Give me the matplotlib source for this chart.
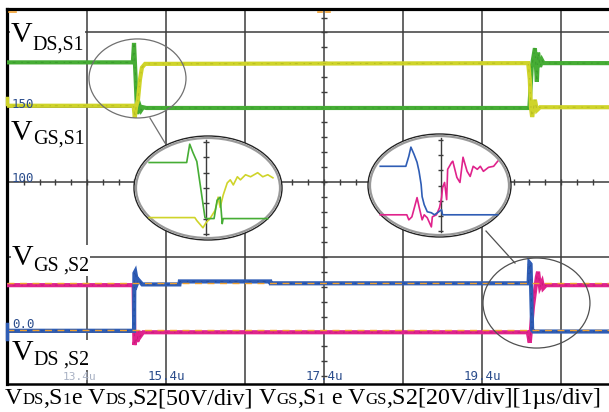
import numpy as np
import matplotlib.pyplot as plt
from matplotlib.patches import Ellipse, Rectangle

W, H, DPI = 609, 412, 100

# scope screen: time in us, vertical position in divisions (0 = centre line)
t_vds1 = [13.39, 14.98, 14.995, 15.005, 15.035, 15.06, 15.085, 15.11, 15.15,
          20.00, 20.03, 20.07, 20.095, 20.11, 20.135, 20.16, 20.18, 21.01]
v_vds1 = [1.60, 1.60, 1.86, 1.63, 0.91, 1.04, 0.96, 1.00, 0.99,
          0.99, 1.54, 1.79, 1.34, 1.73, 1.54, 1.63, 1.59, 1.59]

t_vgs1 = [13.39, 14.99, 15.005, 15.02, 15.045, 15.07, 15.095, 15.135,
          19.985, 20.005, 20.02, 20.035, 20.07, 20.095, 20.135, 21.01]
v_vgs1 = [1.02, 1.02, 0.86, 1.00, 1.10, 1.37, 1.53, 1.58,
          1.59, 1.37, 1.00, 0.87, 1.10, 0.96, 1.00, 1.00]

t_vds2 = [13.39, 14.995, 15.00, 15.01, 15.035, 15.05, 15.10, 15.57, 15.575,
          16.72, 16.725, 19.99, 20.00, 20.015, 20.035, 20.05, 21.01]
v_vds2 = [-1.99, -1.99, -1.22, -1.20, -1.35, -1.31, -1.37, -1.37, -1.33,
          -1.33, -1.355, -1.355, -1.08, -1.10, -1.98, -2.00, -2.00]

t_vgs2 = [13.39, 14.99, 15.00, 15.02, 15.035, 15.05, 15.07, 15.11, 19.98,
          20.005, 20.045, 20.095, 20.11, 20.135, 20.16, 20.175, 20.21, 21.01]
v_vgs2 = [-1.38, -1.38, -2.18, -2.07, -2.14, -1.99, -2.07, -2.01, -2.01,
          -2.15, -1.67, -1.27, -1.20, -1.40, -1.34, -1.42, -1.38, -1.38]

ref_levels = [-1.35, -1.98]
time_labels = [15.4, 17.4, 19.4]
grid_t = [14.4, 15.4, 16.4, 17.4, 18.4, 19.4, 20.4]
grid_v = [-2, -1, 0, 1, 2]

# zoomed views (normalised ellipse coordinates)
z1_green_u = [-0.795, -0.288, -0.247, -0.205, -0.151, -0.041, -0.014, 0.082,
              0.123, 0.164, 0.192, 0.205, 0.808]
z1_green_w = [0.490, 0.490, 0.843, 0.686, 0.510, -0.569, -0.588, -0.588,
              -0.235, -0.176, -0.686, -0.588, -0.588]
z1_yel_u = [-0.795, -0.178, -0.151, -0.068, -0.027, 0.027, 0.096, 0.123, 0.137,
            0.164, 0.205, 0.260, 0.301, 0.342, 0.397, 0.438, 0.507, 0.575,
            0.671, 0.740, 0.808, 0.877]
z1_yel_w = [-0.569, -0.569, -0.627, -0.765, -0.667, -0.588, -0.431, -0.275,
            -0.176, -0.373, -0.137, 0.098, 0.157, 0.059, 0.216, 0.157, 0.255,
            0.216, 0.294, 0.216, 0.255, 0.196]
z2_blue_u = [-0.829, -0.471, -0.429, -0.400, -0.357, -0.314, -0.286, -0.257,
             -0.243, -0.214, -0.171, -0.114, -0.071, -0.029, 0.029, 0.043, 0.814]
z2_blue_w = [0.373, 0.373, 0.569, 0.745, 0.608, 0.451, 0.275, 0.020, -0.216,
             -0.373, -0.510, -0.529, -0.569, -0.529, -0.471, -0.569, -0.569]
z2_mag_u = [-0.829, -0.457, -0.429, -0.386, -0.329, -0.314, -0.286, -0.243,
            -0.214, -0.171, -0.114, -0.100, -0.043, 0.0, 0.029, 0.043, 0.071,
            0.100, 0.114, 0.171, 0.186, 0.243, 0.286, 0.329, 0.386, 0.429,
            0.471, 0.529, 0.571, 0.614, 0.686, 0.757, 0.814]
z2_mag_w = [-0.569, -0.569, -0.667, -0.608, -0.314, -0.235, -0.412, -0.667,
            -0.569, -0.627, -0.804, -0.608, -0.569, -0.431, -0.235, -0.039,
            0.059, -0.275, 0.314, 0.451, 0.471, 0.157, 0.059, 0.549, 0.275,
            0.176, 0.373, 0.314, 0.373, 0.275, 0.353, 0.373, 0.471]

GREEN = "#46ad35"
YELLOW = "#cfd42a"
BLUE = "#2f5db5"
MAGENTA = "#e0238c"
ORANGE = "#f0a030"
GRID = "#3c3c3c"
TXT = "#2b4d8c"

fig = plt.figure(figsize=(W / DPI, H / DPI), dpi=DPI)
ax = fig.add_axes([7 / W, 28 / H, 1 - 7 / W, 375 / H])
ax.set_xlim(13.387, 21.008)
ax.set_ylim(-2.702, 2.314)
ax.set_xticks([])
ax.set_yticks([])
for s in ["left", "top"]:
    ax.spines[s].set_linewidth(2.3)
ax.spines["bottom"].set_linewidth(1.8)
ax.spines["right"].set_visible(False)

for t in grid_t:
    ax.axvline(t, color=GRID, lw=1.1, zorder=1)
for v in grid_v:
    ax.axhline(v, color=GRID, lw=1.1, zorder=1)
ax.vlines(np.arange(13.6, 21.0, 0.2), -0.045, 0.045, color=GRID, lw=1.0, zorder=1)
ax.hlines(np.arange(-2.6, 2.3, 0.2), 17.4 - 0.04, 17.4 + 0.04, color=GRID, lw=1.0, zorder=1)

traces = [(t_vds1, v_vds1, GREEN, "#2f8a26"), (t_vgs1, v_vgs1, YELLOW, "#a3a81c"),
          (t_vgs2, v_vgs2, MAGENTA, "#b0156a"), (t_vds2, v_vds2, BLUE, "#1d3f88")]
for t, v, c, dark in traces:
    ax.plot(t, v, color=c, lw=3, zorder=3, solid_joinstyle="miter")
    # speckle of the sampled trace
    ax.plot(t, v, color=dark, lw=0.7, ls=(0, (1.5, 4, 3, 6)), alpha=0.55, zorder=3)
for lv in ref_levels:
    ax.axhline(lv, color=ORANGE, lw=1.0, ls=(0, (5, 4)), zorder=4)

# small markers on the screen edges
ax.plot([13.41, 13.50], [2.27, 2.27], color=ORANGE, lw=1.2, zorder=5, clip_on=False)
ax.plot([17.33, 17.37], [2.27, 2.27], color=ORANGE, lw=1.2, zorder=5)
ax.plot([17.43, 17.47], [2.27, 2.27], color=ORANGE, lw=1.2, zorder=5)
ax.plot([13.39, 13.39], [1.04, 1.12], color=YELLOW, lw=2.5, zorder=5, clip_on=False)
ax.plot([13.39, 13.39], [-1.90, -2.10], color=BLUE, lw=2.5, zorder=5, clip_on=False)

# highlight ellipses and connectors
ax.add_patch(Ellipse((15.039, 1.385), 1.228, 1.057, fc="none", ec="#707070", lw=0.9, zorder=4))
ax.add_patch(Ellipse((20.09, -1.619), 1.354, 1.204, fc="none", ec="#505050", lw=0.9, zorder=4))
ax.plot([15.197, 15.387], [0.856, 0.522], color="#707070", lw=0.9, zorder=4)
ax.plot([19.451, 19.818], [-0.656, -1.084], color="#505050", lw=0.9, zorder=4)

xt = ax.get_xaxis_transform()
for t in time_labels:
    ax.text(t, 0.004, f"{t:.1f}u", transform=xt, ha="center", va="bottom",
            family="DejaVu Sans Mono", fontsize=9, color=TXT, zorder=6)
ax.text(14.31, 0.004, "13.4u", transform=xt, ha="center", va="bottom",
        family="DejaVu Sans Mono", fontsize=8, color="#a9b2c4", zorder=6)


def px(x, y):
    return x / W, 1 - y / H


for s, y in [("150", 108), ("100", 182), ("0.0", 328)]:
    fig.text(*px(12, y), s, family="DejaVu Sans Mono", fontsize=9, color=TXT,
             ha="left", va="baseline", zorder=7)


def inset(box, traces, axis_u):
    x0, y0, x1, y1 = box
    ia = fig.add_axes([x0 / W, 1 - y1 / H, (x1 - x0) / W, (y1 - y0) / H])
    ia.set_xlim(-1, 1)
    ia.set_ylim(-1, 1)
    ia.axis("off")
    ia.add_patch(Ellipse((0, 0), 2, 2, fc="white", ec="#222222", lw=1.0, clip_on=False))
    ia.add_patch(Ellipse((0, 0), 2 - 8 / (x1 - x0), 2 - 8 / (y1 - y0), fc="none",
                         ec="#999999", lw=1.6, clip_on=False))
    ia.plot([axis_u, axis_u], [-0.9, 0.92], color=GRID, lw=1.0)
    ticks = np.arange(-0.882, 0.9, 0.294)
    ia.hlines(ticks, axis_u - 0.04, axis_u + 0.04, color=GRID, lw=1.0)
    for u, w, c in traces:
        ia.plot(u, w, color=c, lw=1.2)


inset((134, 136, 282, 240), [(z1_yel_u, z1_yel_w, YELLOW), (z1_green_u, z1_green_w, GREEN)], -0.027)
inset((368, 134, 511, 237), [(z2_mag_u, z2_mag_w, MAGENTA), (z2_blue_u, z2_blue_w, BLUE)], 0.014)

renderer = fig.canvas.get_renderer()


def run(x, y, pieces, box=False):
    made = []
    boxes = []
    for s, size, dy, gap in pieces:
        x += gap
        t = fig.text(*px(x, y + dy), s, fontsize=size, family="Liberation Serif",
                     ha="left", va="baseline", zorder=8)
        bb = t.get_window_extent(renderer)
        x += bb.width
        made.append(t)
        boxes.append(bb)
    if box:
        x0 = min(b.x0 for b in boxes) - 1
        x1 = max(b.x1 for b in boxes) + 1
        y0 = min(b.y0 for b in boxes)
        y1 = max(b.y1 for b in boxes)
        fig.patches.append(Rectangle((x0 / W, y0 / H), (x1 - x0) / W, (y1 - y0) / H,
                                     transform=fig.transFigure, fc="white", ec="none",
                                     zorder=7.5))
    return x, made


BIG, SUB = 21.6, 14.4
run(11, 42, [("V", BIG, 0, 0), ("DS,S1", SUB, 8, 0)], box=True)
run(11, 140, [("V", BIG, 0, 0), ("GS,S1", SUB, 4, 0)], box=True)
run(12, 265, [("V", BIG, 0, 0), ("GS", SUB, 6, 0), (",S2", SUB, 6, 4)], box=True)
run(12, 360, [("V", BIG, 0, 0), ("DS", SUB, 5, 0), (",S2", SUB, 5, 4)], box=True)


def caption_pieces(b):
    s = 0.7 * b
    sp = 0.25 * b * DPI / 72
    return [("V", b, 0, 0), ("DS", s, 0, 0), (",S", b, 0, 0), ("1", s, 0, 0),
            ("e", b, 0, 0), ("V", b, 0, sp), ("DS", s, 0, 0), (",S", b, 0, 0),
            ("2[50V/div]", b, 0, 0), ("V", b, 0, sp), ("GS", s, 0, 0),
            (",S", b, 0, 0), ("1", s, 0, 0), ("e", b, 0, sp), ("V", b, 0, sp),
            ("GS", s, 0, 0), (",S", b, 0, 0), ("2[20V/div][1\u00b5s/div]", b, 0, 0)]


end, tmp = run(5, 404, caption_pieces(17.0))
for t in tmp:
    t.remove()
base = 17.0 * 596 / (end - 5)
run(5, 404, caption_pieces(base))

fig.savefig("out.png", dpi=DPI)
